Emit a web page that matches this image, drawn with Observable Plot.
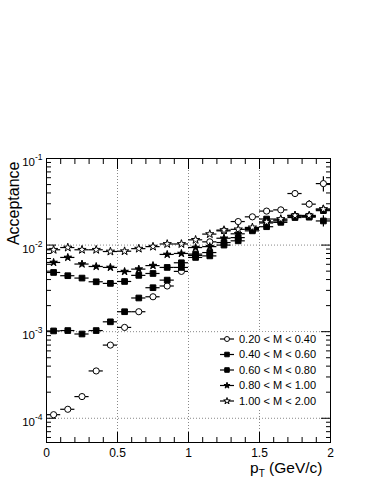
<!DOCTYPE html>
<html><head><meta charset="utf-8">
<script src="https://cdn.jsdelivr.net/npm/d3@7"></script>
<script src="https://cdn.jsdelivr.net/npm/@observablehq/plot@0.6"></script>
<style>
html,body{margin:0;padding:0;background:#fff;}
#chart svg{display:block;}
</style></head><body><div id="chart"></div>
<script>
// ---- data ----
const pt = [0.05,0.15,0.25,0.35,0.45,0.55,0.65,0.75,0.85,0.95,1.05,1.15,1.25,1.35,1.45,1.55,1.65,1.75,1.85,1.95];
const binHalfWidth = 0.05;
const labels = ["0.20 < M < 0.40","0.40 < M < 0.60","0.60 < M < 0.80","0.80 < M < 1.00","1.00 < M < 2.00"];
const acc1 = [1.10e-4,1.27e-4,1.78e-4,3.52e-4,7.0e-4,1.12e-3,1.70e-3,2.53e-3,3.37e-3,4.97e-3,7.6e-3,1.09e-2,1.46e-2,1.87e-2,2.12e-2,2.47e-2,2.55e-2,3.94e-2,2.97e-2,5.13e-2];
const acc2 = [1.02e-3,1.03e-3,9.4e-4,1.03e-3,1.30e-3,1.70e-3,2.45e-3,3.22e-3,3.94e-3,5.52e-3,7.2e-3,7.5e-3,1.0e-2,1.12e-2,1.46e-2,1.63e-2,1.83e-2,2.08e-2,2.1e-2,1.9e-2];
const acc3 = [4.83e-3,4.43e-3,4.16e-3,3.77e-3,3.61e-3,3.8e-3,4.47e-3,4.7e-3,5.52e-3,6.25e-3,7.87e-3,8.2e-3,1.07e-2,1.22e-2,1.51e-2,2.0e-2,1.9e-2,2.15e-2,2.15e-2,2.5e-2];
const acc4 = [6.3e-3,7.2e-3,6.04e-3,5.66e-3,5.52e-3,4.95e-3,5.28e-3,5.8e-3,7.8e-3,8.0e-3,9.37e-3,9.6e-3,1.2e-2,1.35e-2,1.55e-2,1.8e-2,1.95e-2,2.2e-2,2.15e-2,2.6e-2];
const acc5 = [8.83e-3,9.37e-3,8.83e-3,8.83e-3,8.43e-3,8.5e-3,9.1e-3,9.6e-3,1.03e-2,1.03e-2,1.15e-2,1.34e-2,1.49e-2,1.52e-2,1.6e-2,1.85e-2,2.0e-2,2.2e-2,2.2e-2,2.6e-2];
// relative vertical errors
const err1 = [0,0,0,0,0,0,0,0,0,0,0,0.03,0.04,0.05,0.05,0.06,0.07,0.08,0.1,0.2];
const err2 = [0,0,0,0,0,0,0,0,0,0,0,0,0.03,0.04,0.05,0.05,0.06,0.07,0.08,0.15];
const err3 = [0,0,0,0,0,0,0,0,0,0,0,0,0.03,0.04,0.05,0.05,0.06,0.07,0.08,0.1];
const err4 = [0,0,0,0,0,0,0,0,0,0,0,0,0.03,0.04,0.05,0.05,0.06,0.07,0.08,0.1];
const err5 = [0,0,0,0,0,0,0,0,0,0,0,0,0.03,0.04,0.05,0.05,0.06,0.07,0.08,0.1];
const xTicks = [0,0.5,1,1.5,2];
const xMinorTicks = [0.1,0.2,0.3,0.4,0.6,0.7,0.8,0.9,1.1,1.2,1.3,1.4,1.6,1.7,1.8,1.9];
const yTicks = [1e-4,1e-3,1e-2,1e-1];
const yMinorTicks = [6e-5,7e-5,8e-5,9e-5,2e-4,3e-4,4e-4,5e-4,6e-4,7e-4,8e-4,9e-4,2e-3,3e-3,4e-3,5e-3,6e-3,7e-3,8e-3,9e-3,2e-2,3e-2,4e-2,5e-2,6e-2,7e-2,8e-2,9e-2];
const xGrid = [0.5,1,1.5];
const yGrid = [1e-4,1e-3,1e-2];
const xTitle = "pT (GeV/c)";
const yTitle = "Acceptance";

// ---- series styling ----
const series = [
  {label: labels[0], values: acc1, err: err1, symbol: "circle", fill: "white", r: 3.1},
  {label: labels[1], values: acc2, err: err2, symbol: "square", fill: "black", r: 3.2},
  {label: labels[2], values: acc3, err: err3, symbol: "square", fill: "black", r: 3.2},
  {label: labels[3], values: acc4, err: err4, symbol: "star", fill: "black", r: 2.4},
  {label: labels[4], values: acc5, err: err5, symbol: "star", fill: "white", r: 2.6}
];
const rowsOf = s => pt.map((x, i) => ({x, y: s.values[i], e: s.err[i]}));

const seriesMarks = series.flatMap(s => {
  const rows = rowsOf(s);
  return [
    Plot.ruleY(rows, {y: "y", x1: d => d.x - binHalfWidth, x2: d => d.x + binHalfWidth, stroke: "black", strokeWidth: 1.2}),
    Plot.ruleX(rows.filter(d => d.e > 0), {x: "x", y1: d => d.y * (1 - d.e), y2: d => d.y * (1 + d.e), stroke: "black", strokeWidth: 1.2}),
    Plot.dot(rows, {x: "x", y: "y", symbol: () => s.symbol, r: s.r, fill: s.fill, stroke: "black", strokeWidth: 1})
  ];
});

const font = "Liberation Sans, Arial, Helvetica, sans-serif";
const plot = Plot.plot({
  width: 374, height: 484,
  marginTop: 158, marginRight: 44, marginBottom: 42, marginLeft: 46,
  style: {fontFamily: font, background: "white", color: "black", overflow: "visible"},
  x: {domain: [0, 2]},
  y: {type: "log", domain: [5.25e-5, 0.1]},
  symbol: {domain: ["circle","square","star"], range: ["circle","square","star"]},
  marks: [
    Plot.ruleX(xGrid, {stroke: "#888", strokeDasharray: "1,2", strokeWidth: 1}),
    Plot.ruleY(yGrid, {stroke: "#888", strokeDasharray: "1,2", strokeWidth: 1}),
    // major / minor ticks pointing inwards on all four sides
    Plot.axisX({anchor: "bottom", ticks: xTicks, tickSize: 10, dy: -10, fill: "none", label: null}),
    Plot.axisX({anchor: "bottom", ticks: xMinorTicks, tickSize: 5, dy: -5, fill: "none", label: null}),
    Plot.axisX({anchor: "top", ticks: xTicks, tickSize: 10, dy: 10, fill: "none", label: null}),
    Plot.axisX({anchor: "top", ticks: xMinorTicks, tickSize: 5, dy: 5, fill: "none", label: null}),
    Plot.axisY({anchor: "left", ticks: yTicks, tickSize: 10, dx: 10, fill: "none", label: null}),
    Plot.axisY({anchor: "left", ticks: yMinorTicks, tickSize: 5, dx: 5, fill: "none", label: null}),
    Plot.axisY({anchor: "right", ticks: yTicks, tickSize: 10, dx: -10, fill: "none", label: null}),
    Plot.axisY({anchor: "right", ticks: yMinorTicks, tickSize: 5, dx: -5, fill: "none", label: null}),
    // tick labels
    Plot.axisX({anchor: "bottom", ticks: xTicks, tickSize: 0, tickPadding: 6, tickFormat: d => String(d), fontSize: 12, label: null}),
    Plot.axisY({anchor: "left", ticks: yTicks, tickSize: 0, tickPadding: 4, dy: 4, tickFormat: d => "10^" + Math.round(Math.log10(d)), fontSize: 11.5, label: null}),
    ...seriesMarks,
    Plot.frame({stroke: "black", strokeWidth: 1}),
    Plot.text([yTitle], {frameAnchor: "top-left", text: d => d, rotate: -90, textAnchor: "end", dx: -39, dy: 3, fontSize: 16}),
    Plot.text([xTitle], {frameAnchor: "bottom-right", text: d => d, textAnchor: "end", dx: -8, dy: 30, fontSize: 15.5})
  ]
});

document.getElementById("chart").appendChild(plot);
const svg = d3.select(plot.tagName.toLowerCase() === "svg" ? plot : plot.querySelector("svg"));

// superscripts / subscripts
svg.selectAll("text").each(function() {
  const t = this.textContent;
  if (/^10\^-?\d+$/.test(t)) {
    const e = t.split("^")[1];
    this.textContent = "10";
    d3.select(this).append("tspan").attr("dy", -6).attr("font-size", 8.5).text(e);
  } else if (t === xTitle) {
    this.textContent = "";
    const s = d3.select(this);
    s.append("tspan").text("p");
    s.append("tspan").attr("dy", 4).attr("font-size", 10).text("T");
    s.append("tspan").attr("dy", -4).text(" (GeV/c)");
  }
});

// legend (white box, line + marker, label)
const lg = svg.append("g").attr("font-family", font).attr("font-size", 11).attr("text-anchor", "start");
lg.append("rect").attr("x", 218).attr("y", 332).attr("width", 90).attr("height", 77).attr("fill", "white");
const symMap = {circle: d3.symbolCircle, square: d3.symbolSquare, star: d3.symbolStar};
series.forEach((s, i) => {
  const cy = 339 + i * 15.5;
  lg.append("line").attr("x1", 220).attr("x2", 234).attr("y1", cy).attr("y2", cy).attr("stroke", "black").attr("stroke-width", 1.2);
  lg.append("path").attr("transform", `translate(227,${cy})`)
    .attr("d", d3.symbol(symMap[s.symbol], Math.PI * (s.r * 0.8) ** 2)())
    .attr("fill", s.fill).attr("stroke", "black");
  lg.append("text").attr("x", 239).attr("y", cy).attr("dy", "0.35em").attr("text-anchor", "start").text(s.label);
});
</script></body></html>
